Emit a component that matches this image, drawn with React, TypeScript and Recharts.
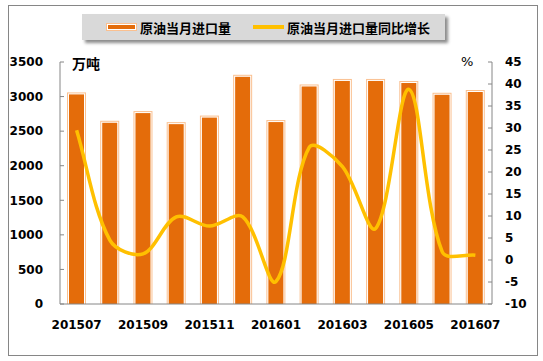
import { Bar, ComposedChart, Line, XAxis, YAxis } from 'recharts'

const months = ['201507', '201508', '201509', '201510', '201511', '201512', '201601', '201602', '201603', '201604', '201605', '201606', '201607']
const importVolume = [3060, 2650, 2790, 2630, 2725, 3315, 2660, 3175, 3255, 3255, 3225, 3055, 3095]
const yoyGrowth = [29.5, 4.5, 1.4, 9.8, 7.7, 9.8, -4.9, 25.6, 21.2, 7.2, 38.8, 1.9, 1.1]
const leftTicks = [0, 500, 1000, 1500, 2000, 2500, 3000, 3500]
const rightTicks = [-10, -5, 0, 5, 10, 15, 20, 25, 30, 35, 40, 45]

const BAR_FILL = '#e46c0a'
const BAR_EDGE = '#fac090'
const LINE_COLOR = '#ffc000'
const AXIS = '#868686'
const FONT = '"DejaVu Sans", Verdana, sans-serif'
const CJK = '"Noto Sans CJK SC", sans-serif'

const data = months.map((m, i) => ({ month: m, volume: importVolume[i], yoy: yoyGrowth[i] }))

// Excel-style smoothed line: tangents split by neighbouring segment lengths
function smoothCurve (context: any) {
  let pts: number[][] = []
  const dist = (a: number[], b: number[]) => Math.hypot(b[0] - a[0], b[1] - a[1])
  return {
    areaStart () {},
    areaEnd () {},
    lineStart () { pts = [] },
    point (x: number, y: number) { pts.push([+x, +y]) },
    lineEnd () {
      const n = pts.length
      if (!n) return
      const ctrl = pts.map((p, i) => {
        const prev = pts[Math.max(i - 1, 0)]
        const next = pts[Math.min(i + 1, n - 1)]
        const dPrev = dist(prev, p)
        const dNext = dist(p, next)
        const sum = dPrev + dNext || 1
        const tx = next[0] - prev[0]
        const ty = next[1] - prev[1]
        return {
          back: [p[0] - tx * (dPrev / sum) / 3, p[1] - ty * (dPrev / sum) / 3],
          fwd: [p[0] + tx * (dNext / sum) / 3, p[1] + ty * (dNext / sum) / 3],
        }
      })
      context.moveTo(pts[0][0], pts[0][1])
      for (let i = 0; i < n - 1; i++) {
        const c1 = ctrl[i].fwd
        const c2 = ctrl[i + 1].back
        context.bezierCurveTo(c1[0], c1[1], c2[0], c2[1], pts[i + 1][0], pts[i + 1][1])
      }
    },
  }
}

type ShapeProps = { x?: number; y?: number; width?: number; height?: number }

function FramedBar (props: ShapeProps) {
  const { x = 0, y = 0, width = 0, height = 0 } = props
  if (height <= 0) return null
  return (
    <g>
      <rect x={x} y={y} width={width} height={height} fill={BAR_EDGE} />
      <rect x={x + 1} y={y + 1} width={width - 2} height={height - 1} fill="#fff" />
      <rect x={x + 2} y={y + 2} width={width - 4} height={height - 2} fill={BAR_FILL} />
    </g>
  )
}

const tickStyle = { fontSize: 12, fontWeight: 700, fill: '#000', fontFamily: FONT }

export default function App () {
  return (
    <div style={{ position: 'absolute', left: 0, top: 0, width: 543, height: 361, background: '#fff' }}>
      <div style={{ position: 'absolute', left: 8, top: 5, width: 528, height: 349, border: `1px solid ${AXIS}` }} />
      <div style={{ position: 'absolute', left: 0, top: 0 }}>
        <ComposedChart width={543} height={361} data={data} margin={{ top: 62, right: 0, bottom: 27, left: 0 }} barSize={19}>
          <XAxis
            dataKey="month"
            interval={1}
            tickLine={false}
            axisLine={{ stroke: AXIS }}
            tick={tickStyle}
            tickMargin={10}
            height={30}
          />
          <YAxis
            yAxisId="left"
            domain={[0, 3500]}
            ticks={leftTicks}
            width={60}
            axisLine={{ stroke: AXIS }}
            tickLine={{ stroke: AXIS }}
            tickSize={-4}
            tickMargin={21}
            tick={tickStyle}
          />
          <YAxis
            yAxisId="right"
            orientation="right"
            domain={[-10, 45]}
            ticks={rightTicks}
            width={51}
            axisLine={{ stroke: AXIS }}
            tickLine={{ stroke: AXIS }}
            tickSize={-4}
            tickMargin={17}
            tick={{ ...tickStyle, textAnchor: 'start' }}
          />
          <Bar yAxisId="left" dataKey="volume" shape={(p: ShapeProps) => <FramedBar {...p} />} isAnimationActive={false} />
          <Line
            yAxisId="right"
            type={smoothCurve as any}
            dataKey="yoy"
            stroke={LINE_COLOR}
            strokeWidth={3.5}
            dot={false}
            activeDot={false}
            isAnimationActive={false}
          />
        </ComposedChart>
      </div>
      <div style={{ position: 'absolute', left: 72, top: 53, fontFamily: CJK, fontWeight: 700, fontSize: 14 }}>万吨</div>
      <div style={{ position: 'absolute', left: 461, top: 54, fontFamily: FONT, fontSize: 13 }}>%</div>
      <div
        style={{
          position: 'absolute', left: 82, top: 14, width: 363, height: 26, background: '#d9d9d9',
          boxShadow: '3px 3px 3px #8c8c8c', display: 'flex', alignItems: 'center',
          fontFamily: CJK, fontWeight: 700, fontSize: 13, color: '#000',
        }}
      >
        <div style={{ marginLeft: 25, width: 27, height: 4, background: BAR_FILL, border: '1px solid #fff', outline: `1px solid ${BAR_EDGE}` }} />
        <span style={{ marginLeft: 4 }}>原油当月进口量</span>
        <div style={{ marginLeft: 22, width: 31, height: 3.5, background: LINE_COLOR }} />
        <span style={{ marginLeft: 3 }}>原油当月进口量同比增长</span>
      </div>
    </div>
  )
}
